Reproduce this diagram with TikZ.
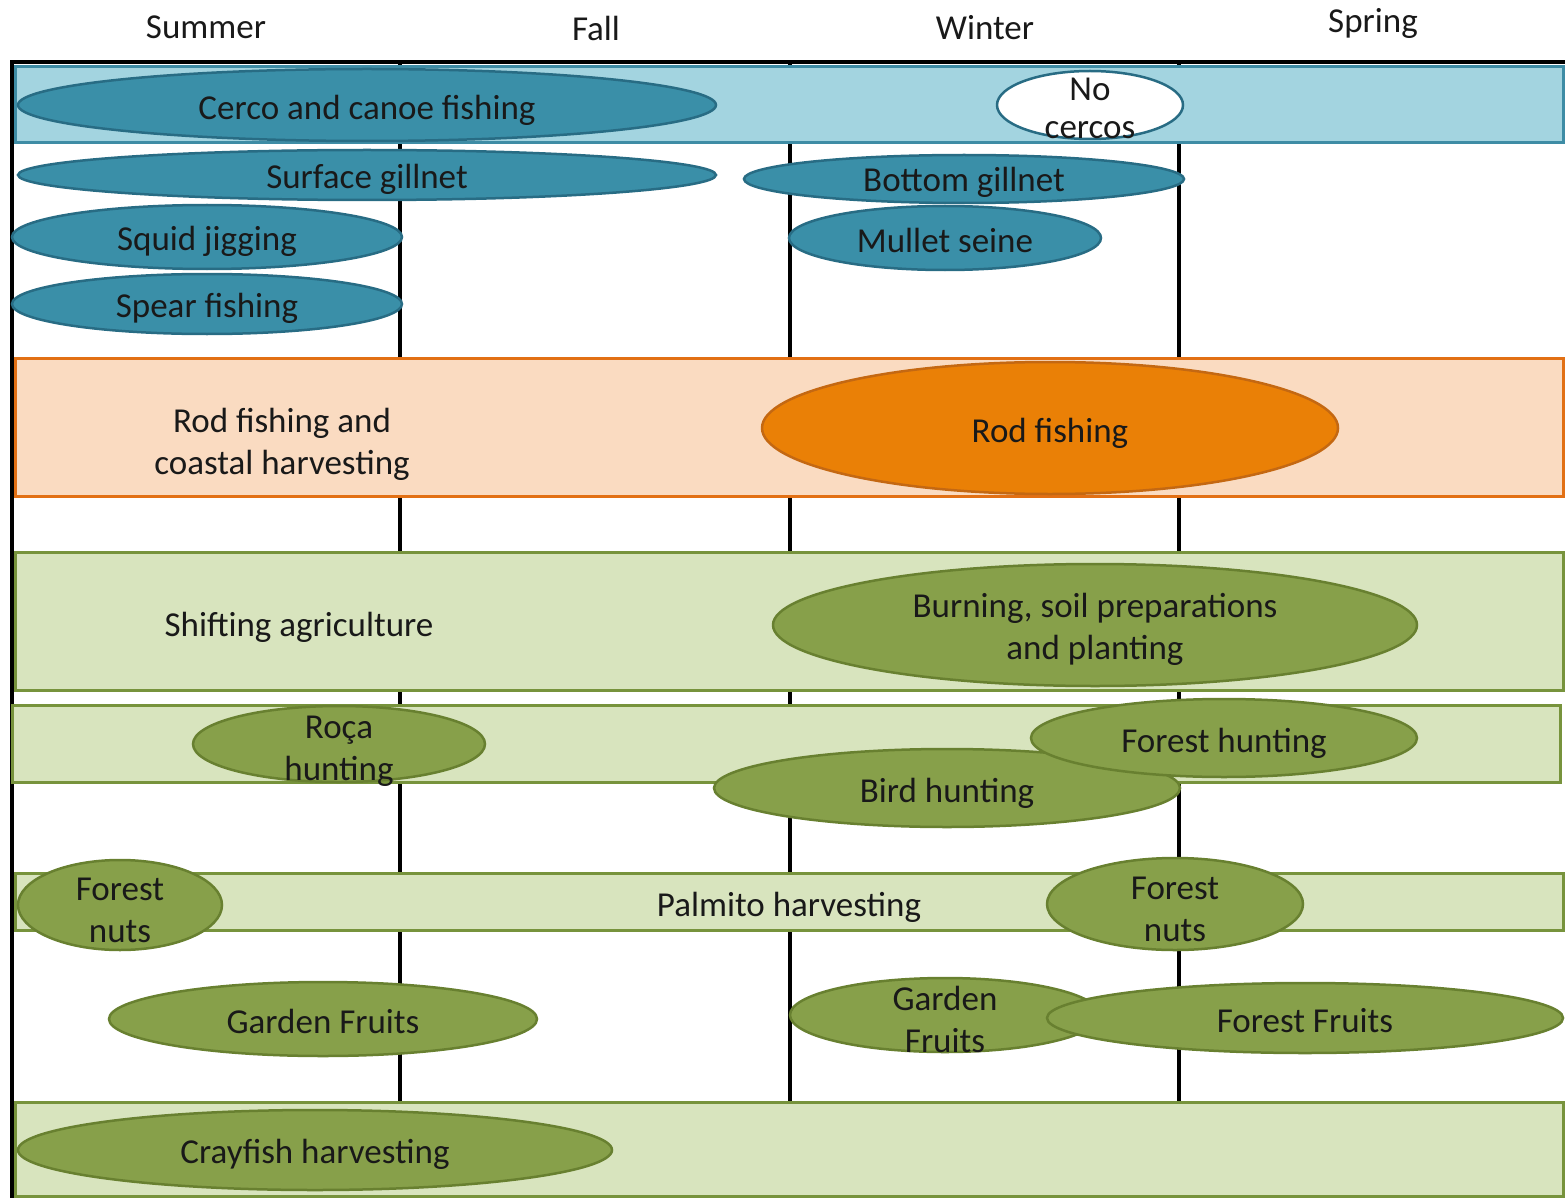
\documentclass[tikz,border=0pt]{standalone}
\usepackage{fontspec}
\setmainfont{Carlito}
\usetikzlibrary{shapes.geometric}

\definecolor{bandblue}{RGB}{163,212,224}
\definecolor{bandblueline}{RGB}{62,140,165}
\definecolor{ovalblue}{RGB}{58,143,168}
\definecolor{ovalblueline}{RGB}{40,108,132}
\definecolor{bandorange}{RGB}{250,219,193}
\definecolor{bandorangeline}{RGB}{226,112,20}
\definecolor{ovalorange}{RGB}{234,128,6}
\definecolor{ovalorangeline}{RGB}{196,104,18}
\definecolor{bandgreen}{RGB}{216,228,190}
\definecolor{bandgreenline}{RGB}{119,147,60}
\definecolor{ovalgreen}{RGB}{135,160,74}
\definecolor{ovalgreenline}{RGB}{104,128,48}
\definecolor{inktext}{RGB}{25,25,25}

\tikzstyle{divider} = [line width=3.5pt, black]
\tikzstyle{topline} = [line width=4.5pt, black]
\tikzstyle{blueband} = [fill=bandblue, draw=bandblueline, line width=3pt]
\tikzstyle{orangeband} = [fill=bandorange, draw=bandorangeline, line width=3pt]
\tikzstyle{greenband} = [fill=bandgreen, draw=bandgreenline, line width=3pt]
\tikzstyle{blueoval} = [fill=ovalblue, draw=ovalblueline, line width=2.5pt]
\tikzstyle{whiteoval} = [fill=white, draw=ovalblueline, line width=2.5pt]
\tikzstyle{orangeoval} = [fill=ovalorange, draw=ovalorangeline, line width=2.5pt]
\tikzstyle{greenoval} = [fill=ovalgreen, draw=ovalgreenline, line width=2.5pt]
\tikzstyle{season} = [text=inktext, text height=0.7em, text depth=0.2em]
\tikzstyle{lbl} = [text=inktext, text height=0.7em, text depth=0.2em]
\tikzstyle{lbltwo} = [text=inktext, align=center]

\begin{document}
\begin{tikzpicture}[x=1pt, y=-1pt, font=\fontsize{35}{42}\selectfont]

\useasboundingbox (0,0) rectangle (1565,1198);

% season grid
\draw [divider] (12,62) -- (12,1198);
\draw [divider] (400,62) -- (400,1198);
\draw [divider] (790,62) -- (790,1198);
\draw [divider] (1179,62) -- (1179,1198);
\draw [topline] (10,62) -- (1565,62);

\node (summer) [season] at (206,36) {Summer};
\node (fall) [season] at (596,38) {Fall};
\node (winter) [season] at (985,37) {Winter};
\node (spring) [season] at (1373,30) {Spring};

% fishing
\draw [blueband] (15,67) rectangle (1563,143);
\draw [blueoval] (367,105) ellipse [x radius=349, y radius=36];
\node (cerco) [lbl] at (367,117) {Cerco and canoe fishing};
\draw [whiteoval] (1090,105) ellipse [x radius=93, y radius=34];
\node (nocercos) [lbltwo] at (1090,108) {No\\[-4pt]cercos};

\draw [blueoval] (367,175) ellipse [x radius=349, y radius=25];
\node (surface) [lbl] at (367,186) {Surface gillnet};
\draw [blueoval] (964,179) ellipse [x radius=220, y radius=24];
\node (bottom) [lbl] at (964,189) {Bottom gillnet};
\draw [blueoval] (207,237) ellipse [x radius=195, y radius=32];
\node (squid) [lbl] at (207,248) {Squid jigging};
\draw [blueoval] (945,238) ellipse [x radius=156, y radius=32];
\node (mullet) [lbl] at (945,250) {Mullet seine};
\draw [blueoval] (207,304) ellipse [x radius=195, y radius=30];
\node (spear) [lbl] at (207,315) {Spear fishing};

% rod fishing
\draw [orangeband] (15,358) rectangle (1563,496);
\node (coastal) [lbltwo] at (282,444) {Rod fishing and\\coastal harvesting};
\draw [orangeoval] (1050,428) ellipse [x radius=288, y radius=66];
\node (rod) [lbl] at (1050,440) {Rod fishing};

% agriculture
\draw [greenband] (15,552) rectangle (1563,690);
\node (shifting) [lbl] at (299,634) {Shifting agriculture};
\draw [greenoval] (1095,625) ellipse [x radius=322, y radius=61];
\node (burning) [lbltwo] at (1095,629) {Burning, soil preparations\\and planting};

% hunting
\draw [greenband] (12,705) rectangle (1560,782);
\draw [greenoval] (339,744) ellipse [x radius=146, y radius=38];
\node (roca) [lbltwo] at (339,751) {Roça\\hunting};
\draw [greenoval] (947,788) ellipse [x radius=233, y radius=39];
\node (bird) [lbl] at (947,800) {Bird hunting};
\draw [greenoval] (1224,738) ellipse [x radius=193, y radius=39];
\node (foresthunt) [lbl] at (1224,750) {Forest hunting};

% palmito and nuts
\draw [greenband] (15,873) rectangle (1563,930);
\node (palmito) [lbl] at (789,914) {Palmito harvesting};
\draw [greenoval] (120,905) ellipse [x radius=102, y radius=45];
\node (nutsleft) [lbltwo] at (120,910) {Forest\\nuts};
\draw [greenoval] (1175,904) ellipse [x radius=128, y radius=46];
\node (nutsright) [lbltwo] at (1175,909) {Forest\\nuts};

% fruits
\draw [greenoval] (323,1019) ellipse [x radius=214, y radius=37];
\node (gardenleft) [lbl] at (323,1031) {Garden Fruits};
\draw [greenoval] (945,1015) ellipse [x radius=155, y radius=37];
\node (gardenmid) [lbltwo] at (945,1019) {Garden\\Fruits};
\draw [greenoval] (1305,1018) ellipse [x radius=258, y radius=35];
\node (forestfruits) [lbl] at (1305,1030) {Forest Fruits};

% crayfish
\draw [greenband] (15,1102) rectangle (1563,1196);
\draw [greenoval] (315,1150) ellipse [x radius=297, y radius=40];
\node (crayfish) [lbl] at (315,1161) {Crayfish harvesting};

\end{tikzpicture}
\end{document}
